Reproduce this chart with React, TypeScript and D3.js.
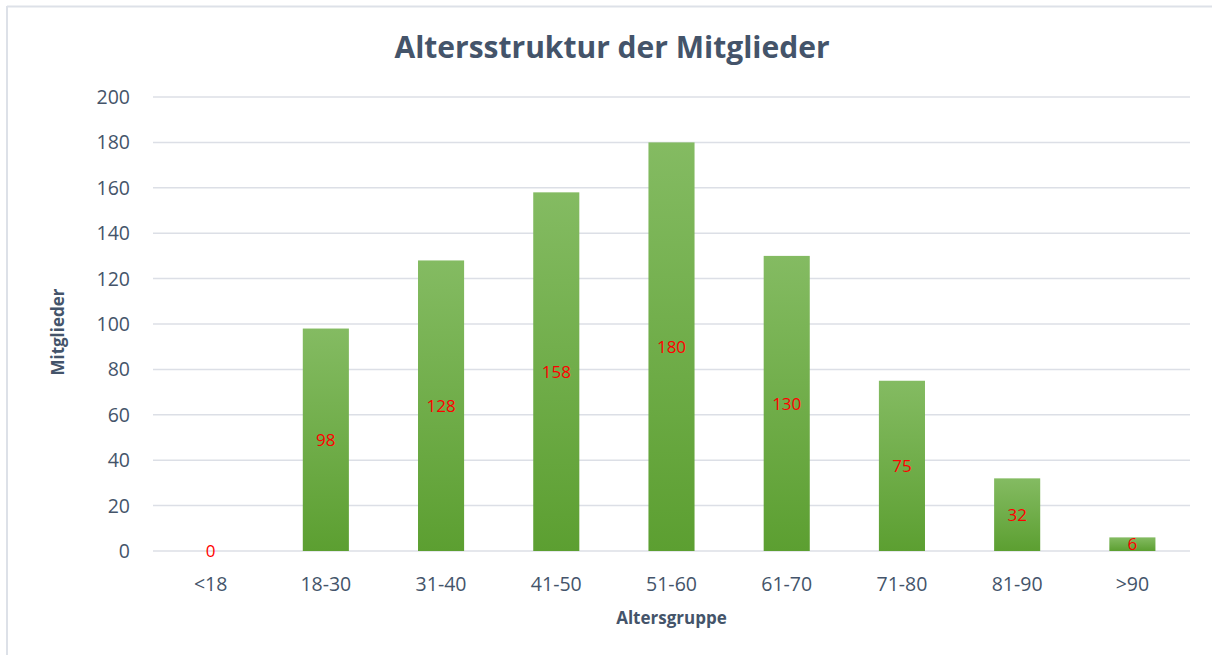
import React from "react";
import * as d3 from "d3";

const categories = ["<18", "18-30", "31-40", "41-50", "51-60", "61-70", "71-80", "81-90", ">90"];
const values = [0, 98, 128, 158, 180, 130, 75, 32, 6];
const yTicks = [0, 20, 40, 60, 80, 100, 120, 140, 160, 180, 200];
const title = "Altersstruktur der Mitglieder";
const xTitle = "Altersgruppe";
const yTitle = "Mitglieder";

const W = 1212;
const H = 655;
const left = 153;
const right = 1190;
const top = 97;
const bottom = 551;
const textColor = "#44546a";
const font = "'Open Sans', 'Noto Sans', sans-serif";

export default function App() {
  const x = d3.scaleBand<string>().domain(categories).range([left, right]).paddingInner(0.6).paddingOuter(0.3);
  const y = d3.scaleLinear().domain([0, 200]).range([bottom, top]);

  return (
    <svg width={W} height={H} style={{ position: "absolute", left: 0, top: 0, background: "#fff" }}>
      <defs>
        <linearGradient id="barGrad" x1="0" y1="0" x2="0" y2="1">
          <stop offset="0%" stopColor="#84bb62" />
          <stop offset="100%" stopColor="#5c9f31" />
        </linearGradient>
      </defs>
      <rect x={0} y={0} width={W} height={H} fill="#fff" />
      <line x1={7} x2={W} y1={6.5} y2={6.5} stroke="#dde1e8" strokeWidth={2} />
      <line x1={7} x2={7} y1={6} y2={H} stroke="#dde1e8" strokeWidth={2} />
      <text x={612} y={58} textAnchor="middle" fontFamily={font} fontWeight="bold" fontSize={30} fill={textColor}>
        {title}
      </text>
      {yTicks.map((t) => (
        <g key={t}>
          <line x1={left} x2={right} y1={y(t)} y2={y(t)} stroke="#dcdfe6" strokeWidth={1.5} />
          <text x={130} y={y(t)} dy="0.36em" textAnchor="end" fontFamily={font} fontSize={19.5} fill={textColor}>
            {t}
          </text>
        </g>
      ))}
      {categories.map((c, i) => {
        const v = values[i];
        const bx = x(c)!;
        const bw = x.bandwidth();
        const cx = bx + bw / 2;
        return (
          <g key={c}>
            {v > 0 && (
              <rect x={bx} y={y(v)} width={bw} height={y(0) - y(v)} fill="url(#barGrad)" />
            )}
            <text x={cx} y={(y(v) + y(0)) / 2} dy="0.36em" textAnchor="middle" fontFamily={font} fontSize={17} fill="#ff0000">
              {v}
            </text>
            <text x={cx} y={591} textAnchor="middle" fontFamily={font} fontSize={19.5} fill={textColor}>
              {c}
            </text>
          </g>
        );
      })}
      <text x={(left + right) / 2} y={624} textAnchor="middle" fontFamily={font} fontWeight="bold" fontSize={17} fill={textColor}>
        {xTitle}
      </text>
      <text
        transform={`translate(64, ${332}) rotate(-90)`}
        textAnchor="middle"
        fontFamily={font}
        fontWeight="bold"
        fontSize={17}
        fill={textColor}
      >
        {yTitle}
      </text>
    </svg>
  );
}
